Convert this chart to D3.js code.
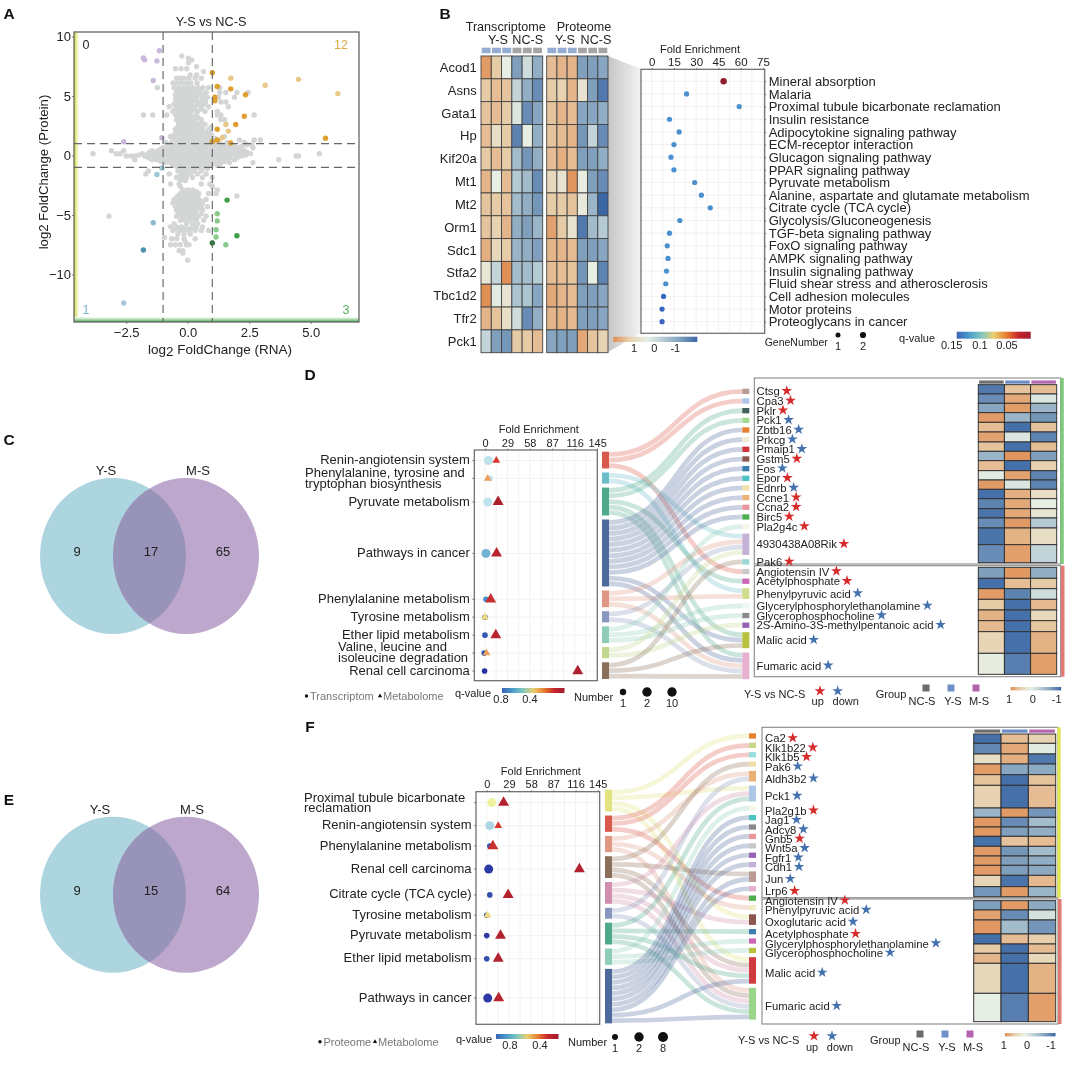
<!DOCTYPE html>
<html><head><meta charset="utf-8">
<script src="https://cdn.jsdelivr.net/npm/d3@7"></script>
<style>html,body{margin:0;padding:0;background:#fff}svg{display:block;filter:blur(.38px)}text{font-family:"Liberation Sans",Arial,sans-serif;fill:#222}</style>
</head><body><svg id="c" width="1080" height="1067"></svg>
<script>
// ---------- Panel A data: [protein log2FC, [RNA log2FC ...]] rows
const grayRows=[
[8.37,[-.24]],[8.17,[.03]],[8.03,[.16]],[7.8,[.03]],[7.47,[.36]],[7.3,[-.5,-.27,-.04]],[7.05,[.64]],[6.76,[.36,.1]],
[6.5,[-.45,-.3,-.15,.05,.3,.55]],[6.1,[-.6,-.45,-.25,-.05,.12,.38]],[5.7,[-1.23,-.55,-.35,-.18,.02,.2,.42,.62,.85,1.3]],
[5.5,[-.45,-.25,-.1,.1,.3,.52]],[5.1,[-.5,-.32,-.15,0,.18,.4,.65]],[4.7,[-.5,-.35,-.2,-.05,.12,.3,.6]],[4.3,[-.55,-.38,-.18,-.02,.15,.38,.65]],[3.9,[-.5,-.3,-.12,.1,.3,.55]],[3.2,[-.35,-.18,0,.18,.42]],[2.8,[-.38,-.2,-.05,.12,.3,.55]],[2.4,[-.4,-.25,-.08,.08,.3,.55,.95]],[2.05,[-.45,-.25,-.08,.1,.35,.62,.9]],[1.75,[-.55,-.3,-.05,.2,.45,.7,.95]],[1.45,[-.6,-.35,-.05,.25,.55,.8,1.1]],[1.1,[-.9,-.65,-.4,-.2,0,.2,.4,.6,.8,1.05,1.3,1.6,2.3]],
[5.3,[-.3,-.12,.05,.28,.5,.75,1.3,1.55,2.0,2.45]],[4.9,[-.4,-.22,-.08,.1,.35,.58,.8,1.25,1.9]],[4.5,[-.3,-.15,0,.18,.45,.72,1.35,1.55]],
[4.1,[-.75,-.45,-.25,-.1,.05,.25,.55,.85,1.65]],[3.7,[-.6,-.38,-.2,-.05,.15,.4,.7,1.2]],
[3.4,[-1.8,-1.42,-.85,-.5,-.3,-.12,.1,.35,1.2,1.35,2.7]],[3.0,[-.45,-.25,-.1,.05,.3,.55,1.35,1.5]],[2.6,[-.3,-.15,0,.2,.4,.7]],
[2.2,[-.5,-.2,-.05,.12,.45,.6,.85]],[1.9,[-.35,-.15,.03,.25,.5,.75]],[1.6,[-.7,-.4,-.25,-.1,.1,.35,.6,.85,1.5]],
[1.3,[-.45,-.3,-.15,0,.2,.45,.7,.95,2.1,2.7,2.95]],
[.9,[-.8,-.5,-.3,-.1,.1,.3,.5,.7,.9,1.15,1.4,2.4,2.6]],[.78,[-.65,-.4,-.2,0,.2,.4,.6,.8,1,1.3,1.6,1.9,2.2]],[.65,[-1,-.75,-.55,-.35,-.15,.05,.25,.45,.65,.85,1.05,1.25,1.5,1.75,2.05,2.65]],
[.52,[-1.1,-.9,-.7,-.5,-.3,-.1,.1,.3,.5,.7,.9,1.1,1.35,1.6,1.9,2.2]],
[.4,[-3.1,-2.6,-1.45,-1.2,-1,-.8,-.6,-.4,-.2,0,.2,.4,.6,.8,1,1.2,1.4,1.6,1.85,2.1,2.3]],[.28,[-1.55,-1.3,-1.1,-.9,-.7,-.5,-.3,-.1,.1,.3,.5,.7,.9,1.1,1.3,1.5,1.7,1.95,2.2,2.4]],
[.15,[-3.85,-2.9,-2.75,-1.85,-1.6,-1.4,-1.2,-1,-.8,-.6,-.4,-.2,0,.2,.4,.6,.8,1,1.2,1.4,1.6,1.8,2,2.25,2.55,5.35]],[.03,[-2,-1.7,-1.5,-1.3,-1.1,-.9,-.7,-.5,-.3,-.1,.1,.3,.5,.7,.9,1.1,1.3,1.5,1.7,1.9,2.1,2.35]],
[-.05,[-2.5,-2.3,-2.15,-1.75,-1.5,-1.3,-1.1,-.9,-.7,-.5,-.3,-.1,.1,.3,.5,.7,.9,1.1,1.3,1.5,1.7,1.95,2.2,4.4,4.5]],[-.22,[-1.6,-1.35,-1.15,-.95,-.75,-.55,-.35,-.15,.05,.25,.45,.65,.85,1.05,1.25,1.45,1.7,2]],
[-.35,[-2.15,-1.45,-1.25,-1.05,-.85,-.65,-.45,-.25,-.05,.15,.35,.55,.75,.95,1.15,1.35,1.6,1.9,3.7]],[-.48,[-1.1,-.8,-.6,-.4,-.2,0,.2,.4,.6,.8,1,1.25,1.5]],
[-.6,[-.9,-.7,-.5,-.3,-.1,.1,.3,.5,.7,.9,1.1,1.35,1.7,2.65]],[-.72,[-.55,-.35,-.15,.05,.25,.45,.7,1,1.3]],[-.85,[-.6,-.4,-.2,0,.2,.4,.65,.9,1.2]],[-.98,[-.4,-.2,0,.2,.45,.7]],
[-1.1,[-.35,-.15,.05,.3,.55,.8]],[-1.3,[-1.6,-.4,-.2,0,.25,.55]],[-1.55,[-1.7,-.75,-.3,-.1,.1,.4,.75]],[-1.85,[-.45,-.25,-.05,.2,.6,1]],
[-2.1,[-.3,-.1]],[-2.4,[-.7,-.35,.55,.9]],[-2.6,[-.3,1]],[-2.9,[-.2,0,.2,1.2]],[-3.05,[-.2,0,.2,.35]],[-3.2,[-.3,-.1,.1,.3,.45,.85,1.15]],[-3.4,[-.4,-.2,0,.2,.4,2]],[-3.55,[-.45,-.25,-.05,.15,.35]],
[-3.7,[-.55,-.35,-.15,.05,.25,.45,.75]],[-3.85,[-.45,-.25,-.05,.15,.35,.55]],[-4,[-.6,-.4,-.2,0,.2,.4,.6]],[-4.15,[-.5,-.3,-.1,.1,.3,.5]],[-4.3,[-.5,-.3,-.1,.1,.3,.55,.8]],[-4.45,[-.4,-.2,0,.2,.4]],[-4.6,[-.45,-.25,-.05,.15,.35,.6]],[-4.75,[-.35,-.15,.05,.25]],
[-4.9,[-.3,-.1,.1,.3,.55]],[-5.1,[-3.2,-.45,-.2,0,.2,.45,.75]],[-5.3,[-.25,-.05,.15,.3]],[-5.45,[-.3,-.1,.1,.35,.65]],[-5.75,[-.55,-.05,.2,.4]],[-6,[-.7,-.45,-.25,.35,.6]],
[-6.15,[-.5,-.1,.1,.25]],[-6.3,[-.6,-.35,-.15,.05,.3,.55,.85]],[-6.6,[-.4,-.15,.1]],[-6.9,[-.95]],[-7,[-.65,-.45,-.15,.3]],[-7.2,[-.1]],[-7.5,[-.7,-.5,-.3,-.05,.05]],
[-8,[-.35,-.2]],[-8.2,[-.2]],[-8.8,[0]]];
const purplePts=[[-1.15,8.8],[-1.8,8.2],[-1.75,8.05],[-1.25,7.95],[-1.4,6.3],[-2.6,1.15],[-1.05,1.5]];
const orangeDark=[[1.2,5.8],[1.75,5.6],[2.35,5.1],[1.1,4.9],[1.1,4.6],[2.3,3.3],[1.2,2.2],[1.95,2.6],[1.2,1.3],[1,1.15],[1.75,1.05],[5.6,1.45],[1,6.95]];
const orangeLight=[[1.75,6.5],[3.15,5.9],[4.5,6.4],[6.1,5.2],[1.55,2.6],[1.65,2.05],[1.4,1.5]];
const bluePts=[[-1.05,-1.05,"#9CC8D8"],[-1.25,-1.6,"#9CC8D8"],[-1.4,-5.65,"#8EBACD"],[-1.8,-7.95,"#4F93AC"],[-2.6,-12.4,"#A6C8DA"]];
const greenPts=[[1.6,-3.75,"#3F9F48"],[1.2,-4.9,"#8ACB8D"],[1.2,-5.5,"#8ACB8D"],[1.15,-6.25,"#8ACB8D"],[1.15,-6.85,"#8ACB8D"],[1.55,-7.5,"#8ACB8D"],[2,-6.75,"#3F9F48"],[1,-7.35,"#1F7A35"]];
// ---------- Panel B data
const bGenes=["Acod1","Asns","Gata1","Hp","Kif20a","Mt1","Mt2","Orm1","Sdc1","Stfa2","Tbc1d2","Tfr2","Pck1"];
const bTrans=[[1.3,.6,0,-1,-.2,-.8],[.6,.8,.7,-.3,-.8,-1.2],[.7,.8,.6,-.1,-1.2,-.9],[.8,.3,.6,-1.3,0,-.8],[.6,.8,.6,-.6,-1.1,-.8],[.9,0,.8,-.4,-.6,-1.2],[.7,.6,.7,-.6,-.8,-1.1],[.7,.5,.9,-.8,-1,-.7],[1,.4,.6,-.7,-.8,-1],[.15,-.3,1.5,-.6,-.6,-.4],[1.5,-.05,.2,-.5,-.5,-.9],[.9,.7,.3,-.2,-1.2,-.8],[-.3,-1,-1.1,.6,.6,.8]];
const bProt=[[.8,.9,.9,-1,-1,-.9],[.6,.5,.9,.2,-1,-1.4],[.7,.9,.8,-.9,-.9,-.8],[.7,.8,.9,-1.1,-.3,-1.2],[.8,1,.8,-1,-1,-.8],[.4,.2,1.4,.05,-1,-1.2],[.6,.6,.7,.1,-.7,-1.6],[1.2,.6,.2,-1.4,-.6,-.4],[.9,.9,.8,-1,-1,-.9],[.8,.8,.7,-1.1,0,-1.3],[1.1,.9,.8,-1,-1,-.9],[.9,.95,.85,-1,-1,-.9],[-.9,-1,-1,1.1,.7,.5]];
const bPaths=["Mineral absorption","Malaria","Proximal tubule bicarbonate reclamation","Insulin resistance","Adipocytokine signaling pathway","ECM-receptor interaction","Glucagon signaling pathway","PPAR signaling pathway","Pyruvate metabolism","Alanine, aspartate and glutamate metabolism","Citrate cycle (TCA cycle)","Glycolysis/Gluconeogenesis","TGF-beta signaling pathway","FoxO signaling pathway","AMPK signaling pathway","Insulin signaling pathway","Fluid shear stress and atherosclerosis","Cell adhesion molecules","Motor proteins","Proteoglycans in cancer"];
const bFold=[48.5,23.5,59,12,18.5,15,13,15,29,33.5,39.5,19,12,10.5,11,10,9.5,8,7,7];
const bQ=[.02,.125,.125,.125,.125,.125,.125,.125,.125,.125,.125,.125,.125,.125,.125,.125,.125,.145,.148,.148];
// ---------- Panel D data
const dPathways=["Renin-angiotensin system","Phenylalanine, tyrosine and|tryptophan biosynthesis","Pyruvate metabolism","Pathways in cancer","Phenylalanine metabolism","Tyrosine metabolism","Ether lipid metabolism","Valine, leucine and|isoleucine degradation","Renal cell carcinoma"];
const dFoldT=[4.3,6.5,3.5,1.3,1.3,0,0,-1,-.5], dNumT=[2,1,2,2,1,1,1,1,1], dQT=[.58,.58,.58,.66,.73,.79,.81,.81,.85];
const dFoldM=[14.7,3.5,17,15,7.4,0,14,2,120], dNumM=[1,1,2,2,2,1,2,1,2], dQM=[.2,.34,.07,.1,.15,.43,.1,.34,.07];
const dTargets=["Ctsg","Cpa3","Pklr","Pck1","Zbtb16","Prkcg","Pmaip1","Gstm5","Fos","Epor","Ednrb","Ccne1","Ccna2","Birc5","Pla2g4c","4930438A08Rik","Pak6","Angiotensin IV","Acetylphosphate","Phenylpyruvic acid","Glycerylphosphorylethanolamine","Glycerophosphocholine","2S-Amino-3S-methylpentanoic acid","Malic acid","Fumaric acid"];
const dRegUp=[1,1,1,0,0,0,0,1,0,1,0,1,1,1,1,1,1,1,1,0,0,0,0,0,0];
const dLinks=[[0,0],[0,1],[0,17],[1,15],[1,19],[2,2],[2,3],[2,18],[2,23],[2,24],[3,4],[3,5],[3,6],[3,7],[3,8],[3,9],[3,10],[3,11],[3,12],[3,13],[3,23],[3,24],[4,15],[4,19],[4,24],[5,15],[5,24],[6,14],[6,20],[6,21],[7,15],[7,22],[8,16],[8,23],[8,24]];
const dHeat=[[-1.4,.7,.8],[-1.2,1.1,-.1],[-.9,1.3,-.7],[1.3,-.7,-1.1],[.8,-1.5,.7],[1.2,-.1,-1.3],[.7,-1.5,.8],[-.7,1.4,-1],[.8,-1.5,.5],[-.05,1.2,-1.3],[1.3,-.1,-1.3],[-1.5,1,.3],[-1.3,1.1,0],[-1.45,1.1,.15],[-1.2,1.3,-.4],[-1.45,.95,.3],[-1.2,1.25,-.3],[-1,1.35,-.8],[-1.5,.8,.6],[1.3,-1.3,-.2],[.6,-1.5,.85],[.95,-1.5,.4],[.85,-1.5,.65],[.45,-1.5,.95],[.05,-1.35,1.25]];
// ---------- Panel F data
const fPathways=["Proximal tubule bicarbonate|reclamation","Renin-angiotensin system","Phenylalanine metabolism","Renal cell carcinoma","Citrate cycle (TCA cycle)","Tyrosine metabolism","Pyruvate metabolism","Ether lipid metabolism","Pathways in cancer"];
const fFoldP=[6.5,4,4,2.6,4,0,0,0,1.3], fNumP=[2,2,1,2,1,1,1,1,2], fQP=[.5,.6,.81,.84,.82,.8,.84,.82,.84];
const fFoldM=[22,15,8,121,28,1,18,15,15.6], fNumM=[2,1,2,2,2,1,2,2,2], fQM=[.08,.2,.15,.08,.08,.43,.08,.08,.1];
const fTargets=["Ca2","Klk1b22","Klk1b5","Pak6","Aldh3b2","Pck1","Pla2g1b","Jag1","Adcy8","Gnb5","Wnt5a","Fgfr1","Cdh1","Jun","Lrp6","Angiotensin IV","Phenylpyruvic acid","Oxoglutaric acid","Acetylphosphate","Glycerylphosphorylethanolamine","Glycerophosphocholine","Malic acid","Fumaric acid"];
const fRegUp=[1,1,1,0,0,0,1,0,0,1,0,0,0,0,1,1,0,0,1,0,0,0,0];
const fLinks=[[0,0],[0,5],[0,17],[0,21],[1,1],[1,2],[1,15],[2,4],[2,16],[2,22],[3,3],[3,13],[3,21],[3,22],[4,5],[4,17],[4,21],[4,22],[5,4],[5,22],[6,5],[6,18],[6,21],[6,22],[7,6],[7,19],[7,20],[8,7],[8,8],[8,9],[8,10],[8,11],[8,12],[8,13],[8,14],[8,21],[8,22]];
const fHeat=[[-1.5,.8,.5],[-1.25,1.1,-.05],[.3,1,-1.4],[1.3,-.9,-.85],[.7,-1.5,.7],[.5,-1.5,.8],[-.7,1.3,-1.1],[1.35,-1.2,-.6],[1.35,-1,-.8],[-1.5,.7,.8],[1.3,-1.1,-.6],[1.3,-1,-.8],[1.3,-1,-.85],[.45,-1.45,.85],[-1.1,1.3,-.7],[-1,1.3,-.85],[1.2,-1.2,-.15],[1.35,-.6,-1.1],[-1.5,.8,.55],[.6,-1.5,.8],[.9,-1.5,.4],[.4,-1.5,.95],[0,-1.35,1.25]];
const foldTicks=[0,29,58,87,116,145];

// ---------- styles / layout (not data)
const dSrcCol=["#D9594C","#6BBCC9","#4FA98C","#4E6A9C","#E09884","#8A97BE","#8FCDB7","#C3D88F","#8B6F5A"];
const dTgtCol=["#BC9B96","#AEC7E8","#3F5F5C","#A2D98E","#E88030","#F2EDD8","#D0323C","#8C5650","#3A7FB0","#4CC3C3","#F0DFA8","#EBB277","#EB969C","#4CAF50","#F5F6E8","#C5B0D8","#99D8D2","#C8C8C8","#CC66B8","#CFDD8F","#EEF6F6","#8A8A8A","#9762B5","#B8C23E","#E8B0D0"];
const fSrcCol=["#E2E27E","#D9594C","#E09884","#8B6F5A","#CF8FAD","#8A97BE","#4FA98C","#8FCDB7","#4E6A9C"];
const fTgtCol=["#E88030","#C5D88A","#99DDDD","#F0DFA8","#EBB277","#AEC7E8","#F5F6E8","#4CC3C3","#8A8A8A","#EB969C","#C8C8C8","#9762B5","#C5B0D8","#BC9B96","#E8B0D0","#4CAF50","#F0EEC8","#8C5650","#3A7FB0","#CC66B8","#B8C23E","#CF3B3F","#9AD68A"];
const dEdges=[44,72,100,128,157,186,216,244,272,302,330,358,386,416,444,474,524,578,592,625,656,688,720,752,785,850,913].map(v=>v/3+370);
const fEdges=[42,70,102,132,164,196,264,292,321,349,379,408,436,466,500,530,542,570,600,642,672,700,730,820,905].map(v=>v/3+720);

const svg=d3.select("#c"), defs=svg.append("defs");
const heatCol=d3.scaleLinear().domain([-1.6,-1,-.4,0,.5,1,1.5]).range(["#3A66A5","#7F9FBD","#B5CBD3","#E7EFE4","#E7D2B1","#E3AE80","#E08F55"]);
const qCol=d3.scaleLinear().domain([.85,.8,.72,.65,.58,.5,.42,.34,.2,.05]).range(["#2A2FA0","#3A5FB5","#4A90C8","#7BB6D6","#BEE3EA","#EEF2A0","#F2D978","#F0A05A","#D8382E","#A81C2E"]);
const bqCol=d3.scaleLinear().domain([.15,.125,.1,.07,.04,.02]).range(["#3560BF","#4A90CF","#7FC8C0","#E8CF70","#E88030","#931B2F"]);
function txt(g,x,y,s,o={}){return g.append("text").attr("x",x).attr("y",y).attr("dy",".35em").attr("text-anchor",o.a||"start").attr("font-size",o.s||12).attr("font-weight",o.w||null).attr("transform",o.t||null).style("fill",o.f||"#222").text(s);}
function grad(id,stops,vertical){const g=defs.append("linearGradient").attr("id",id);if(vertical)g.attr("x1",0).attr("x2",0).attr("y1",0).attr("y2",1);stops.forEach((c,i)=>g.append("stop").attr("offset",i/(stops.length-1)).attr("stop-color",c));return `url(#${id})`;}
const heatGrad=grad("hg",["#E08F55","#E7D2B1","#E7EFE4","#B5CBD3","#7F9FBD","#3A66A5"]);
const qGrad=grad("qg",["#3A62B8","#4A9CCB","#7FC8C0","#E8CF70","#E88030","#C8252B","#A01C2F"]);
function styleAxis(g,size){g.select(".domain").remove();g.selectAll("line").attr("stroke","#555").attr("stroke-width",.7);g.selectAll("text").attr("font-size",size).style("fill","#222");}

// ---------- Panel labels
[["A",9,14],["B",445,14],["C",9,440],["D",310,375],["E",9,800],["F",310,727]].forEach(d=>txt(svg,d[1],d[2],d[0],{s:15.5,w:"bold",a:"middle",f:"#111"}));

// ---------- Panel A
(function(){
 const L=74,R=359,T=32,B=322;
 const x=d3.scaleLinear().domain([-4.62,6.96]).range([L,R]), y=d3.scaleLinear().domain([10.38,-14]).range([T,B]);
 const g=svg.append("g");
 g.append("rect").attr("x",L).attr("y",T).attr("width",5).attr("height",B-T).attr("fill",grad("ls",["#CBDB45","#E6EE9A","#fff"]));
 g.append("rect").attr("x",L).attr("y",B-5).attr("width",R-L).attr("height",5).attr("fill",grad("bs",["#fff","#A8D8A8","#46A64E"],true));
 const gray=grayRows.flatMap(r=>r[1].map(v=>[v,r[0]]));
 const dot=(arr,col)=>g.append("g").selectAll("circle").data(arr).join("circle").attr("cx",d=>x(d[0])).attr("cy",d=>y(d[1])).attr("r",2.7).attr("fill",d=>d[2]||col);
 dot(gray,"#D4D6D6");dot(purplePts,"#C9B8DC");dot(orangeLight,"#E8C888");dot(orangeDark,"#DFA030");dot(bluePts);dot(greenPts);
 [-1,1].forEach(v=>{g.append("line").attr("x1",x(v)).attr("x2",x(v)).attr("y1",T).attr("y2",B).attr("stroke","#666").attr("stroke-dasharray","8,5").attr("stroke-width",1.15);
  g.append("line").attr("y1",y(v)).attr("y2",y(v)).attr("x1",L).attr("x2",R).attr("stroke","#666").attr("stroke-dasharray","8,5").attr("stroke-width",1.15);});
 g.append("rect").attr("x",L).attr("y",T).attr("width",R-L).attr("height",B-T).attr("fill","none").attr("stroke","#666").attr("stroke-width",1.3);
 const ax=g.append("g").attr("transform",`translate(0,${B})`).call(d3.axisBottom(x).tickValues([-2.5,0,2.5,5]).tickFormat(d3.format(".1f")).tickSize(2).tickPadding(4));styleAxis(ax,13);
 const ay=g.append("g").attr("transform",`translate(${L},0)`).call(d3.axisLeft(y).tickValues([10,5,0,-5,-10]).tickSize(2).tickPadding(1));styleAxis(ay,13);
 txt(g,211,22,"Y-S vs NC-S",{s:12.7,a:"middle"});
 const xl=txt(g,220,349,"log",{s:13.5,a:"middle"});xl.append("tspan").attr("dy",2).text("2");xl.append("tspan").attr("dy",-2).text(" FoldChange (RNA)");
 const yl=txt(g,0,0,"log2 FoldChange (Protein)",{s:13.2,a:"middle",t:"translate(43.5,172) rotate(-90)"});
 txt(g,86,45,"0",{s:12.5,a:"middle"});txt(g,341,45,"12",{s:12.5,a:"middle",f:"#E0A848"});txt(g,86,310,"1",{s:12.5,a:"middle",f:"#7FB2D0"});txt(g,346,310,"3",{s:12.5,a:"middle",f:"#5AAF5F"});
})();

// ---------- Panel B
(function(){
 const g=svg.append("g"), top=56,bot=352.7;
 const rows=d3.scaleBand().domain(bGenes).range([top,bot]);
 g.append("polygon").attr("points",`608,56 641,69 641,333 608,352`).attr("fill",grad("wedge",["#C6C6C6","#F3F3F3"]));
 const heat=(vals,x0,x1)=>{const c=d3.scaleBand().domain(d3.range(6)).range([x0,x1]);
  vals.forEach((r,i)=>r.forEach((v,j)=>g.append("rect").attr("x",c(j)).attr("y",rows(bGenes[i])).attr("width",c.bandwidth()).attr("height",rows.bandwidth()).attr("fill",heatCol(v)).attr("stroke","#444").attr("stroke-width",.9)));
  d3.range(6).forEach(j=>g.append("rect").attr("x",c(j)+.7).attr("y",47.7).attr("width",c.bandwidth()-1.4).attr("height",5.5).attr("fill",j<3?"#94ADD3":"#A4A4A4"));
 };
 heat(bTrans,481,542.7);heat(bProt,546.7,608);
 bGenes.forEach(n=>txt(g,476.7,rows(n)+rows.bandwidth()/2,n,{s:13,a:"end"}));
 txt(g,505.7,26.7,"Transcriptome",{s:12.6,a:"middle"});txt(g,584,26.7,"Proteome",{s:12.6,a:"middle"});
 [[498,"Y-S"],[527.7,"NC-S"],[565,"Y-S"],[596,"NC-S"]].forEach(d=>txt(g,d[0],40,d[1],{s:12.6,a:"middle"}));
 const L=641,R=764.7,T=69.3,B=333.3;
 const x=d3.scaleLinear().domain([-7.2,76.2]).range([L,R]);
 const y=d3.scalePoint().domain(bPaths).range([81.3,321.7]);
 g.append("rect").attr("x",L).attr("y",T).attr("width",R-L).attr("height",B-T).attr("fill","#fff");
 d3.range(0,76,7.5).forEach(v=>g.append("line").attr("x1",x(v)).attr("x2",x(v)).attr("y1",T).attr("y2",B).attr("stroke","#EEE").attr("stroke-width",.8));
 bPaths.forEach(p=>g.append("line").attr("x1",L).attr("x2",R).attr("y1",y(p)).attr("y2",y(p)).attr("stroke","#EEE").attr("stroke-width",.8));
 g.append("g").selectAll("circle").data(bPaths).join("circle").attr("cx",(d,i)=>x(bFold[i])).attr("cy",d=>y(d)).attr("r",(d,i)=>i==0?3.2:2.6).attr("fill",(d,i)=>bqCol(bQ[i]));
 g.append("rect").attr("x",L).attr("y",T).attr("width",R-L).attr("height",B-T).attr("fill","none").attr("stroke","#666").attr("stroke-width",1.2);
 const ax=g.append("g").attr("transform",`translate(0,${T})`).call(d3.axisTop(x).tickValues([0,15,30,45,60,75]).tickSize(1.5).tickPadding(2));styleAxis(ax,11.5);
 const ay=g.append("g").attr("transform",`translate(${R},0)`).call(d3.axisRight(y).tickSize(1.5).tickPadding(2.5));styleAxis(ay,13);
 txt(g,700,49.5,"Fold Enrichment",{s:11,a:"middle"});
 g.append("rect").attr("x",613.3).attr("y",336.7).attr("width",84).attr("height",5.3).attr("fill",heatGrad);
 [[634,"1"],[654.3,"0"],[675.3,"-1"]].forEach(d=>txt(g,d[0],348,d[1],{s:11,a:"middle"}));
 txt(g,764.7,342,"GeneNumber",{s:10.5});
 [[838,2.5,"1"],[863,3.1,"2"]].forEach(d=>{g.append("circle").attr("cx",d[0]).attr("cy",335).attr("r",d[1]).attr("fill","#111");txt(g,d[0],346,d[2],{s:11,a:"middle"});});
 txt(g,899,337.7,"q-value",{s:11});
 g.append("rect").attr("x",956.7).attr("y",331.7).attr("width",74).attr("height",7).attr("fill",qGrad);
 [[951.7,"0.15"],[980,"0.1"],[1007,"0.05"]].forEach(d=>txt(g,d[0],345,d[1],{s:11,a:"middle"}));
})();

// ---------- Panels C / E
function venn(cy,labY,numY,lx,rx,a,b,c,id){
 const g=svg.append("g"),rxr=73,ryr=78;
 g.append("ellipse").attr("cx",113).attr("cy",cy).attr("rx",rxr).attr("ry",ryr).attr("fill","#ACD5DF");
 g.append("ellipse").attr("cx",186).attr("cy",cy).attr("rx",rxr).attr("ry",ryr).attr("fill","#BDA7CD");
 defs.append("clipPath").attr("id",id).append("ellipse").attr("cx",113).attr("cy",cy).attr("rx",rxr).attr("ry",ryr);
 g.append("ellipse").attr("cx",186).attr("cy",cy).attr("rx",rxr).attr("ry",ryr).attr("fill","#9793B9").attr("clip-path",`url(#${id})`);
 txt(g,lx,labY,"Y-S",{s:13,a:"middle"});txt(g,rx,labY,"M-S",{s:13,a:"middle"});
 [[77,a],[151,b],[223,c]].forEach(d=>txt(g,d[0],numY,d[1],{s:13,a:"middle"}));
}
venn(556,470,551,106,198,9,17,65,"vc");
venn(894.7,809,890,100,192,9,15,64,"ve");

// ---------- Shared sankey + dot plot + heatmap panel
function panel(o){
 const g=svg.append("g");
 const tgtW=o.targets.map((_,i)=>o.links.filter(l=>l[1]==i).length), srcW=o.paths.map((_,i)=>o.links.filter(l=>l[0]==i).length);
 const total=d3.sum(srcW);
 const lh=d3.scaleLinear().domain([0,total]).range([0,total*o.lUnit]), rh=d3.scaleLinear().domain([0,total]).range([0,total*o.rUnit]);
 const stack=(w,start,sc,gap)=>{let c=start;return w.map(v=>{const n={y0:c,y1:c+sc(v)};c=n.y1+gap;return n;});};
 const lNodes=stack(srcW,o.lStart,lh,o.lGap), rNodes=stack(tgtW,o.rStart,rh,o.rGap);
 const lCount=srcW.map(()=>0), rCount=tgtW.map(()=>0);
 const linkGen=d3.linkHorizontal().x(d=>d[0]).y(d=>d[1]);
 const lPos=new Map(),rPos=new Map();
 o.links.slice().sort((a,b)=>a[0]-b[0]||a[1]-b[1]).forEach(l=>{lPos.set(l,lNodes[l[0]].y0+lh(lCount[l[0]]+.5));lCount[l[0]]++;});
 o.links.slice().sort((a,b)=>a[1]-b[1]||a[0]-b[0]).forEach(l=>{rPos.set(l,rNodes[l[1]].y0+rh(rCount[l[1]]+.5));rCount[l[1]]++;});
 g.append("g").selectAll("path").data(o.links).join("path").attr("fill","none").attr("stroke",l=>o.srcCol[l[0]]).attr("stroke-opacity",.3).attr("stroke-width",o.rUnit*.88)
  .attr("d",l=>linkGen({source:[o.lx1,lPos.get(l)],target:[o.rx0,rPos.get(l)]}));
 g.append("g").selectAll("rect").data(lNodes).join("rect").attr("x",o.lx0).attr("width",o.lx1-o.lx0).attr("y",d=>d.y0).attr("height",d=>d.y1-d.y0).attr("fill",(d,i)=>o.srcCol[i]);
 g.append("g").selectAll("rect").data(rNodes).join("rect").attr("x",o.rx0).attr("width",o.rx1-o.rx0).attr("y",d=>d.y0).attr("height",d=>d.y1-d.y0).attr("fill",(d,i)=>o.tgtCol[i]);
 const x=d3.scaleLinear().domain(o.xDom).range([o.L,o.R]);
 const rowY=lNodes.map(n=>(n.y0+n.y1)/2+o.rowOff);
 g.append("rect").attr("x",o.L).attr("y",o.T).attr("width",o.R-o.L).attr("height",o.B-o.T).attr("fill","#fff");
 d3.range(0,146,14.5).forEach(v=>g.append("line").attr("x1",x(v)).attr("x2",x(v)).attr("y1",o.T).attr("y2",o.B).attr("stroke","#F0F0F0").attr("stroke-width",.9));
 rowY.forEach(v=>g.append("line").attr("x1",o.L).attr("x2",o.R).attr("y1",v).attr("y2",v).attr("stroke","#F0F0F0").attr("stroke-width",.9));
 const rs=d3.scaleSqrt().domain([1,2]).range([2.8,4.5]), ts=d3.scaleLinear().domain([1,2]).range([26,52]);
 g.append("g").selectAll("circle").data(o.foldA).join("circle").attr("cx",d=>x(d)).attr("cy",(d,i)=>rowY[i]).attr("r",(d,i)=>rs(o.numA[i])).attr("fill",(d,i)=>qCol(o.qA[i]));
 const tri=d3.symbol().type(d3.symbolTriangle);
 g.append("g").selectAll("path").data(o.foldB).join("path").attr("transform",(d,i)=>`translate(${x(d)},${rowY[i]})`).attr("d",(d,i)=>tri.size(ts(o.numB[i]))()).attr("fill",(d,i)=>qCol(o.qB[i]));
 g.append("rect").attr("x",o.L).attr("y",o.T).attr("width",o.R-o.L).attr("height",o.B-o.T).attr("fill","none").attr("stroke","#666").attr("stroke-width",1.2);
 const ax=g.append("g").attr("transform",`translate(0,${o.T})`).call(d3.axisTop(x).tickValues(foldTicks).tickSize(1.5).tickPadding(2));styleAxis(ax,11);
 txt(g,(o.L+o.R)/2+3,o.T-21,"Fold Enrichment",{s:11,a:"middle"});
 o.paths.forEach((p,i)=>{const parts=p.split("|");
  g.append("line").attr("x1",o.L-2).attr("x2",o.L).attr("y1",rowY[i]).attr("y2",rowY[i]).attr("stroke","#555").attr("stroke-width",.7);
  if(parts.length==1) txt(g,o.L-4.5,rowY[i]-1,p,{s:13,a:"end"});
  else {const lx=o.wrapX[i];parts.forEach((t,k)=>txt(g,lx,rowY[i]+o.wrapDy[i]+k*o.wrapLead,t,{s:13}));}
 });
 const split=o.splitIdx;
 [[o.box1T,o.box1B],[o.box2T,o.box2B]].forEach(b=>g.append("rect").attr("x",o.bx0).attr("y",b[0]).attr("width",o.bx1-o.bx0).attr("height",b[1]-b[0]).attr("fill","#fff").attr("stroke","#888").attr("stroke-width",1.1));
 g.append("rect").attr("x",o.sx).attr("y",o.box1T).attr("width",3.5).attr("height",o.box1B-o.box1T).attr("fill",o.strip1);
 g.append("rect").attr("x",o.sx+.7).attr("y",o.box2T).attr("width",3.5).attr("height",o.box2B-o.box2T).attr("fill","#E27A74");
 const c=d3.scaleBand().domain([0,1,2]).range([o.hx0,o.hx1]);
 const cellEdges=o.edges; let ei=0;
 o.heat.forEach((r,i)=>{ if(i==split) ei++; const y0=cellEdges[ei],y1=cellEdges[ei+1]; ei++;
   r.forEach((v,j)=>g.append("rect").attr("x",c(j)).attr("y",y0).attr("width",c.bandwidth()).attr("height",y1-y0).attr("fill",heatCol(v)).attr("stroke","#333").attr("stroke-width",1));});
 ["#6F6F6F","#6C8CC6","#B266B0"].forEach((col,j)=>g.append("rect").attr("x",c(j)+.8).attr("y",o.hdrY).attr("width",c.bandwidth()-1.6).attr("height",3.2).attr("fill",col));
 const star=d3.symbol().type(d3.symbolStar).size(36);
 o.targets.forEach((t,i)=>{const cy=(rNodes[i].y0+rNodes[i].y1)/2+o.labelOff;
  const el=txt(g,o.labX,cy,t,{s:11.3});
  const w=el.node().getComputedTextLength();
  g.append("path").attr("transform",`translate(${o.labX+w+7},${cy-.5})`).attr("d",star()).attr("fill",o.up[i]?"#D52B2B":"#4472AE");});
 const lg=o.lg;
 g.append("circle").attr("cx",lg.d1).attr("cy",lg.dy).attr("r",1.7).attr("fill","#111");txt(g,lg.d1+3.5,lg.dy,lg.name,{s:11,f:"#777"});
 g.append("path").attr("transform",`translate(${lg.d2},${lg.dy})`).attr("d",d3.symbol().type(d3.symbolTriangle).size(8)()).attr("fill","#111");txt(g,lg.d2+3,lg.dy,"Metabolome",{s:11,f:"#777"});
 txt(g,lg.qx,lg.qy,"q-value",{s:11});
 g.append("rect").attr("x",lg.gx).attr("y",lg.gy).attr("width",62.5).attr("height",5).attr("fill",qGrad);
 txt(g,lg.q8,lg.qly,"0.8",{s:11,a:"middle"});txt(g,lg.q4,lg.qly,"0.4",{s:11,a:"middle"});
 txt(g,lg.nx,lg.ny,"Number",{s:11});
 lg.nums.forEach(d=>{g.append("circle").attr("cx",d[0]).attr("cy",lg.ncy).attr("r",d[1]).attr("fill","#111");txt(g,d[0],lg.nly,d[2],{s:11,a:"middle"});});
 txt(g,lg.yx,lg.yy,"Y-S vs NC-S",{s:11});
 g.append("path").attr("transform",`translate(${lg.s1},${lg.sy})`).attr("d",star()).attr("fill","#D52B2B");
 g.append("path").attr("transform",`translate(${lg.s2},${lg.sy})`).attr("d",star()).attr("fill","#4472AE");
 txt(g,lg.ux,lg.uy,"up",{s:11,a:"middle"});txt(g,lg.dx,lg.uy,"down",{s:11,a:"middle"});
 txt(g,lg.grx,lg.yy,"Group",{s:11});
 ["#6B6B6B","#6F8FCB","#B266B0"].forEach((col,j)=>{g.append("rect").attr("x",lg.sq[j]-3.5).attr("y",lg.sqy-3.5).attr("width",7).attr("height",7).attr("fill",col);txt(g,lg.sl[j],lg.uy,["NC-S","Y-S","M-S"][j],{s:11,a:"middle"});});
 g.append("rect").attr("x",lg.hx).attr("y",lg.hy).attr("width",50.5).attr("height",3.4).attr("fill",heatGrad);
 ["1","0","-1"].forEach((s,j)=>txt(g,lg.hl[j],lg.hly,s,{s:11,a:"middle"}));
}

panel({paths:dPathways,targets:dTargets,links:dLinks,heat:dHeat,up:dRegUp,srcCol:dSrcCol,tgtCol:dTgtCol,
 foldA:dFoldT,numA:dNumT,qA:dQT,foldB:dFoldM,numB:dNumM,qB:dQM,
 lUnit:5.58,rUnit:5.33,lStart:451.7,rStart:388.7,lGap:4,rGap:4.33,lx0:602,lx1:609,rx0:742.3,rx1:749.3,
 L:474.3,R:597.3,T:450,B:680.7,xDom:[-13.8,145.3],rowOff:.4,wrapX:{1:305,7:338},wrapDy:{1:-5.5,7:-6.5},wrapLead:10.7,
 splitIdx:17,edges:dEdges,bx0:754.3,bx1:1060.7,box1T:378,box1B:564,box2T:565.7,box2B:676.7,sx:1060.3,strip1:"#7FC97F",hx0:978.3,hx1:1056.7,hdrY:380.5,labX:756.5,labelOff:0,
 lg:{d1:306.5,d2:380,dy:696,name:"Transcriptom",qx:455,qy:693,gx:502,gy:688,q8:501,q4:530,qly:699.5,nx:574,ny:697,nums:[[623,3.2,"1"],[647,4.7,"2"],[672,4.7,"10"]],ncy:692,nly:703,
  yx:744,yy:694.5,s1:820,s2:837.7,sy:691,ux:817.7,dx:845.7,uy:701,grx:875.7,sq:[926,951,976],sqy:688,sl:[922,953,979],hx:1010.7,hy:687,hl:[1009,1032.7,1056.7],hly:699}});

panel({paths:fPathways,targets:fTargets,links:fLinks,heat:fHeat,up:fRegUp,srcCol:fSrcCol,tgtCol:fTgtCol,
 foldA:fFoldP,numA:fNumP,qA:fQP,foldB:fFoldM,numB:fNumM,qB:fQM,
 lUnit:5.45,rUnit:5.3,lStart:789.7,rStart:733.3,lGap:4,rGap:4.1,lx0:605,lx1:612,rx0:749,rx1:756,
 L:476,R:599.7,T:791.7,B:1024.3,xDom:[-14,147.5],rowOff:2,wrapX:{0:304},wrapDy:{0:-5},wrapLead:10,
 splitIdx:15,edges:fEdges,bx0:762,bx1:1058,box1T:727.3,box1B:897.7,box2T:899,box2B:1024,sx:1057.3,strip1:"#E2E85A",hx0:973.7,hx1:1055.7,hdrY:729.5,labX:765,labelOff:2.5,
 lg:{d1:320,d2:375,dy:1041.7,name:"Proteome",qx:456,qy:1039,gx:496,gy:1034,q8:510,q4:540,qly:1045,nx:568,ny:1042,nums:[[615,3,"1"],[639,4.7,"2"],[663,5,"8"]],ncy:1037,nly:1048,
  yx:738,yy:1040,s1:814,s2:832,sy:1036,ux:812,dx:840,uy:1047,grx:870,sq:[920,945,970],sqy:1034,sl:[916,947,973],hx:1005,hy:1033,hl:[1003.7,1027,1051],hly:1045}});
</script></body></html>
